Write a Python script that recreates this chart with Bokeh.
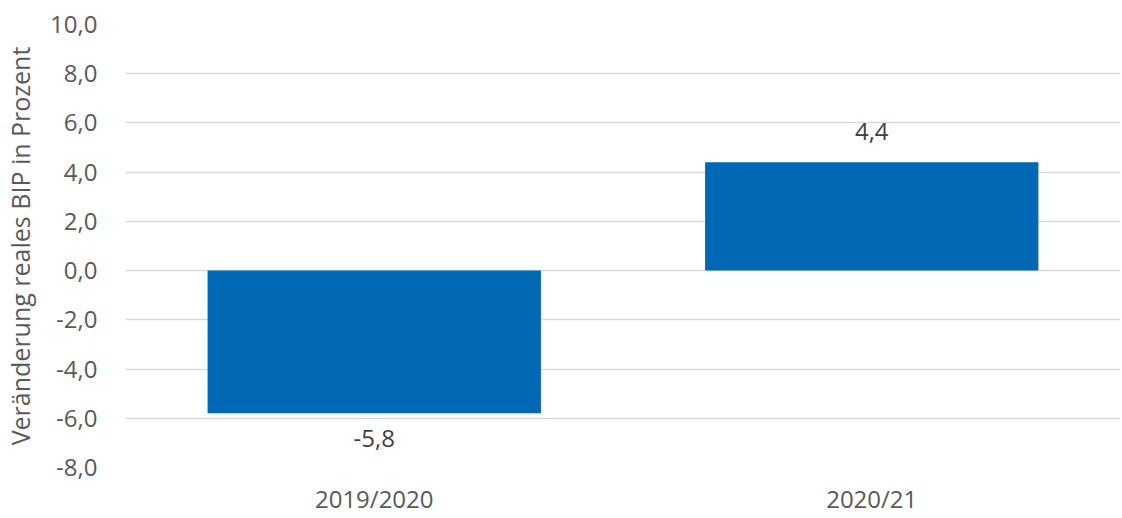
from bokeh.plotting import figure
from bokeh.models import ColumnDataSource, FactorRange, Range1d, FixedTicker
from bokeh.core.properties import value
from bokeh.embed import file_html
from bokeh.resources import INLINE

categories = ["2019/2020", "2020/21"]
values = [-5.8, 4.4]
value_labels = ["-5,8", "4,4"]
y_ticks = [-8, -6, -4, -2, 0, 2, 4, 6, 8, 10]
y_tick_labels = ["-8,0", "-6,0", "-4,0", "-2,0", "0,0", "2,0", "4,0", "6,0", "8,0", "10,0"]
y_title = "Veränderung reales BIP in Prozent"

FONT = "Open Sans"
FS = "24px"

src = ColumnDataSource(dict(cat=categories, val=values, lab=value_labels,
                            off=[25 if v < 0 else -31 for v in values]))

p = figure(width=1122, height=518, output_backend="svg", toolbar_location=None,
           x_range=FactorRange(*categories, range_padding=0),
           y_range=Range1d(min(y_ticks), max(y_ticks)),
           min_border_left=125, min_border_right=2, min_border_top=24, min_border_bottom=51)
p.outline_line_color = None
p.background_fill_color = "white"
p.border_fill_color = "white"

p.vbar(x="cat", top="val", bottom=0, width=0.67, source=src,
       fill_color="#0068b5", line_color=None)

p.text(x="cat", y="val", text="lab", source=src, y_offset="off",
       text_align="center", text_baseline="alphabetic",
       text_font=value(FONT), text_font_size=FS, text_color="#404040")

p.xgrid.grid_line_color = None
p.ygrid.grid_line_color = "#d9d9d9"
p.ygrid.grid_line_width = 1.5
p.yaxis.ticker = FixedTicker(ticks=y_ticks)
p.yaxis.major_label_overrides = {t: l for t, l in zip(y_ticks, y_tick_labels)}

for ax in (p.xaxis, p.yaxis):
    ax.axis_line_color = None
    ax.major_tick_line_color = None
    ax.minor_tick_line_color = None
    ax.major_tick_in = 0
    ax.major_tick_out = 0
    ax.minor_tick_in = 0
    ax.minor_tick_out = 0
    ax.major_label_text_font = FONT
    ax.major_label_text_font_size = FS
    ax.major_label_text_color = "#595959"

p.yaxis.major_label_standoff = 28
p.xaxis.major_label_standoff = 14
p.yaxis.axis_label = y_title
p.yaxis.axis_label_text_font = FONT
p.yaxis.axis_label_text_font_size = "25px"
p.yaxis.axis_label_text_font_style = "normal"
p.yaxis.axis_label_text_color = "#595959"
p.yaxis.axis_label_standoff = 10

open("out.html", "w").write(file_html(p, INLINE))
